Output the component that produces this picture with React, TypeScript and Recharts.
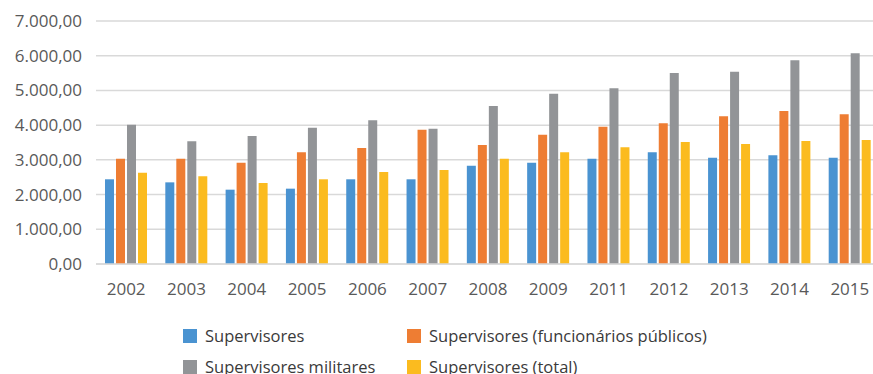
import React from "react";
import { BarChart, Bar, XAxis, YAxis, CartesianGrid, Legend } from "recharts";

const years = ["2002", "2003", "2004", "2005", "2006", "2007", "2008", "2009", "2011", "2012", "2013", "2014", "2015"];
const supervisores = [2440, 2352, 2141, 2170, 2440, 2440, 2833, 2919, 3034, 3217, 3063, 3130, 3063];
const funcionarios = [3034, 3034, 2919, 3217, 3342, 3870, 3428, 3726, 3956, 4052, 4253, 4407, 4311];
const militares = [4013, 3534, 3687, 3927, 4139, 3899, 4551, 4907, 5060, 5502, 5540, 5866, 6068];
const total = [2631, 2525, 2333, 2440, 2650, 2708, 3034, 3217, 3361, 3514, 3457, 3543, 3572];
const yTicks = [0, 1000, 2000, 3000, 4000, 5000, 6000, 7000];

const seriesNames = [
  "Supervisores",
  "Supervisores (funcionários públicos)",
  "Supervisores militares",
  "Supervisores (total)",
];
const colors = ["#4a93d1", "#ee7d33", "#929497", "#fbbb1f"];

const data = years.map((y, i) => ({
  year: y,
  s: supervisores[i],
  f: funcionarios[i],
  m: militares[i],
  t: total[i],
}));

const fmt = (v: number) => {
  const fixed = v.toFixed(2);
  const [intPart, dec] = fixed.split(".");
  const withDots = intPart.replace(/\B(?=(\d{3})+(?!\d))/g, ".");
  return `${withDots},${dec}`;
};

const FONT = "'Open Sans', sans-serif";

const LegendContent = () => (
  <div
    style={{
      display: "grid",
      gridTemplateColumns: "224px 320px",
      rowGap: 0,
      fontFamily: FONT,
      fontSize: 16.5,
      color: "#3a3a3a",
    }}
  >
    {seriesNames.map((n, i) => (
      <div key={n} style={{ display: "flex", alignItems: "center", height: 31, whiteSpace: "nowrap" }}>
        <span
          style={{
            width: 14,
            height: 14,
            flexShrink: 0,
            background: colors[i],
            display: "inline-block",
            marginRight: 8,
          }}
        />
        <span>{n}</span>
      </div>
    ))}
  </div>
);

export default function App() {
  return (
    <div style={{ position: "absolute", left: 0, top: 0, width: 873, height: 374, overflow: "hidden", background: "#fff" }}>
      <BarChart
        width={880}
        height={374}
        data={data}
        margin={{ top: 21, right: 0, bottom: 70, left: 0 }}
        barSize={9}
        barGap={2}
      >
        <CartesianGrid vertical={false} stroke="#d9d9d9" strokeWidth={1.5} />
        <XAxis
          dataKey="year"
          tickLine={false}
          axisLine={{ stroke: "#d9d9d9", strokeWidth: 1.5 }}
          tickSize={0}
          tickMargin={19}
          height={40}
          interval={0}
          tick={{ fill: "#595959", fontSize: 17, fontFamily: FONT }}
        />
        <YAxis
          domain={[0, 7000]}
          ticks={yTicks}
          tickFormatter={fmt}
          axisLine={false}
          tickLine={false}
          tickSize={0}
          tickMargin={14}
          width={96}
          interval={0}
          tick={{ fill: "#595959", fontSize: 17, fontFamily: FONT }}
        />
        <Legend
          layout="horizontal"
          verticalAlign="middle"
          align="center"
          content={<LegendContent />}
          wrapperStyle={{ position: "absolute", left: 183, top: 320, width: 560, height: 62 }}
        />
        <Bar dataKey="s" name={seriesNames[0]} fill={colors[0]} isAnimationActive={false} />
        <Bar dataKey="f" name={seriesNames[1]} fill={colors[1]} isAnimationActive={false} />
        <Bar dataKey="m" name={seriesNames[2]} fill={colors[2]} isAnimationActive={false} />
        <Bar dataKey="t" name={seriesNames[3]} fill={colors[3]} isAnimationActive={false} />
      </BarChart>
    </div>
  );
}
